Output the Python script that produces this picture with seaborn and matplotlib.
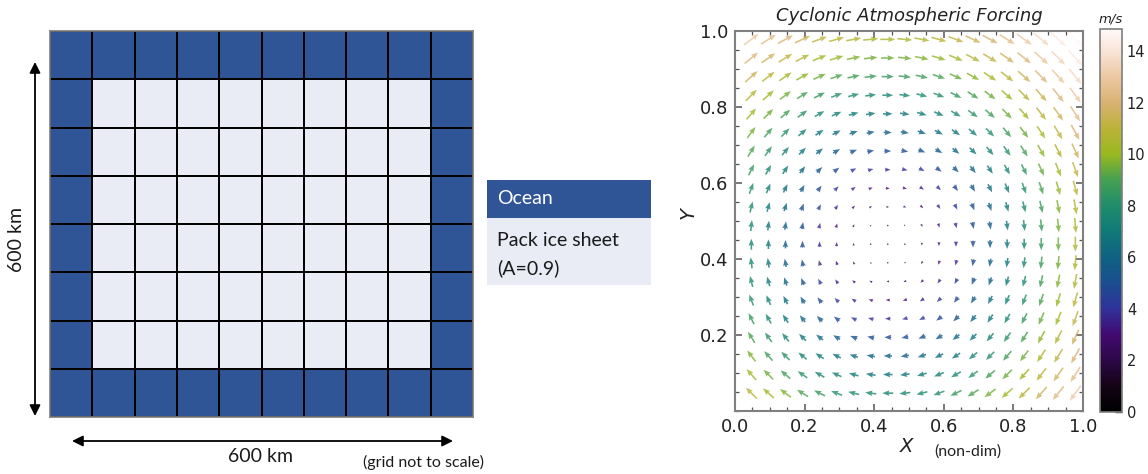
import numpy as np
import matplotlib
matplotlib.use("Agg")
import matplotlib.pyplot as plt
from matplotlib.colors import ListedColormap, Normalize, LinearSegmentedColormap
from matplotlib.patches import Rectangle, FancyArrowPatch
from matplotlib.ticker import MultipleLocator
import seaborn as sns

# ---- model domain layout: 1 = open ocean, 0 = pack ice ----
domain_cells = [
    [1, 1, 1, 1, 1, 1, 1, 1, 1, 1],
    [1, 0, 0, 0, 0, 0, 0, 0, 0, 1],
    [1, 0, 0, 0, 0, 0, 0, 0, 0, 1],
    [1, 0, 0, 0, 0, 0, 0, 0, 0, 1],
    [1, 0, 0, 0, 0, 0, 0, 0, 0, 1],
    [1, 0, 0, 0, 0, 0, 0, 0, 0, 1],
    [1, 0, 0, 0, 0, 0, 0, 0, 0, 1],
    [1, 1, 1, 1, 1, 1, 1, 1, 1, 1],
]
legend_labels = ["Ocean", "Pack ice sheet", "(A=0.9)"]
domain_size_label = "600 km"

# ---- wind forcing sampled on a 20 x 20 set of points (non-dim coords) ----
grid_pos = [0.047, 0.096, 0.145, 0.194, 0.243, 0.292, 0.341, 0.390, 0.439, 0.488,
            0.537, 0.586, 0.635, 0.684, 0.733, 0.782, 0.831, 0.880, 0.929, 0.978]
# eastward wind per row (bottom to top), m/s
u_by_row = [-7.7, -6.7, -5.8, -4.8, -3.8, -2.9, -1.9, -1.0, 0.0, 0.9,
            1.9, 2.8, 3.8, 4.8, 5.7, 6.7, 7.6, 8.6, 9.5, 10.5]
# northward wind per column (left to right), m/s
v_by_col = [7.7, 6.7, 5.8, 4.8, 3.8, 2.9, 1.9, 1.0, 0.0, -0.9,
            -1.9, -2.8, -3.8, -4.8, -5.7, -6.7, -7.6, -8.6, -9.5, -10.5]
xy_ticks = [0.0, 0.2, 0.4, 0.6, 0.8, 1.0]
cbar_ticks = [0, 2, 4, 6, 8, 10, 12, 14]

ocean_color = "#2F5597"
ice_color = "#E9EBF5"
office_font = "Lato"

# wind-speed palette: black -> purple -> blue -> teal -> green -> olive -> tan -> white
speed_colors = ["#000000", "#140414", "#2c0848", "#420a72", "#30329a", "#1a4e90",
                "#0f6282", "#107a78", "#1f8c6c", "#44a052", "#98b820", "#bcb238",
                "#d8b272", "#ecc8a2", "#f8e4d8", "#fff8f8"]
speed_anchor = [0, 1, 2, 3, 4, 5, 6, 7, 8, 9, 10, 11, 12, 13, 14, 14.85]

sns.set_theme(style="ticks")
plt.rcParams["font.family"] = ["DejaVu Sans"]

W, H = 1148, 474
fig = plt.figure(figsize=(W / 100, H / 100), dpi=100)


def px_axes(left, top, right, bottom):
    return fig.add_axes([left / W, 1 - bottom / H, (right - left) / W, (bottom - top) / H])


# ---------------- left: domain grid ----------------
ax_grid = px_axes(50, 31, 473, 417)
sns.heatmap(np.array(domain_cells), ax=ax_grid,
            cmap=ListedColormap([ice_color, ocean_color]), vmin=0, vmax=1,
            cbar=False, linewidths=1.1, linecolor="black",
            xticklabels=False, yticklabels=False)
for sp in ax_grid.spines.values():
    sp.set_visible(True)
    sp.set_color("#7f7f7f")
    sp.set_linewidth(1.2)

arrow_kw = dict(arrowstyle="<|-|>", color="black", lw=1.3, mutation_scale=16,
                shrinkA=0, shrinkB=0)
fig.add_artist(FancyArrowPatch((35, H - 62), (35, H - 416), transform=None, **arrow_kw))
fig.add_artist(FancyArrowPatch((72, H - 441), (453, H - 441), transform=None, **arrow_kw))
fig.text(17 / W, 1 - 240 / H, domain_size_label, rotation=90, ha="center", va="center",
         fontsize=14, family=office_font, color="#1a1a1a")
fig.text(260 / W, 1 - 457 / H, domain_size_label, ha="center", va="center",
         fontsize=14, family=office_font, color="#1a1a1a")
fig.text(423 / W, 1 - 462 / H, "(grid not to scale)", ha="center", va="center",
         fontsize=11.5, family=office_font, color="#1a1a1a")

# ---------------- legend boxes ----------------
ax_leg = px_axes(487, 180, 651, 285)
ax_leg.set_xlim(0, 164)
ax_leg.set_ylim(105, 0)
ax_leg.axis("off")
ax_leg.add_patch(Rectangle((0, 0), 164, 38, color=ocean_color, lw=0))
ax_leg.add_patch(Rectangle((0, 38), 164, 67, color=ice_color, lw=0))
ax_leg.text(10, 19, legend_labels[0], color="white", fontsize=14, family=office_font,
            ha="left", va="center")
ax_leg.text(10, 60, legend_labels[1], color="#1a1a1a", fontsize=14, family=office_font,
            ha="left", va="center")
ax_leg.text(10, 88, legend_labels[2], color="#1a1a1a", fontsize=14, family=office_font,
            ha="left", va="center")

# ---------------- right: wind vectors ----------------
ax_q = px_axes(735, 31, 1083, 411)
X, Y = np.meshgrid(grid_pos, grid_pos)
U = np.tile(np.array(u_by_row)[:, None], (1, len(grid_pos)))
V = np.tile(np.array(v_by_col)[None, :], (len(grid_pos), 1))
speed = np.hypot(U, V)
vmax = speed_anchor[-1]
norm = Normalize(0, vmax)
cmap = LinearSegmentedColormap.from_list(
    "wind_speed", list(zip(np.array(speed_anchor) / vmax, speed_colors)))
ax_q.quiver(X, Y, U, V, speed, cmap=cmap, norm=norm, pivot="mid",
            scale=70, scale_units="inches", units="dots", width=1.6,
            headwidth=3.5, headlength=4.5, headaxislength=4, alpha=0.8)
ax_q.set_xlim(0, 1)
ax_q.set_ylim(0, 1)
ax_q.set_xticks(xy_ticks)
ax_q.set_yticks(xy_ticks[1:])
ax_q.xaxis.set_minor_locator(MultipleLocator(0.05))
ax_q.yaxis.set_minor_locator(MultipleLocator(0.05))
ax_q.tick_params(which="both", direction="in", top=True, right=True,
                 color="#555555", labelsize=13, labelcolor="#222222")
ax_q.tick_params(which="major", length=5, width=1.1, pad=5)
ax_q.tick_params(which="minor", length=3, width=0.9)
for sp in ax_q.spines.values():
    sp.set_color("#808080")
    sp.set_linewidth(1.5)
ax_q.set_title("Cyclonic Atmospheric Forcing", fontsize=13, style="italic",
               color="#222222", pad=7)
fig.text(907 / W, 1 - 447 / H, "X", ha="center", va="center", fontsize=14,
         style="italic", color="#222222")
fig.text(968 / W, 1 - 452 / H, "(non-dim)", ha="center", va="center", fontsize=11.5,
         family=office_font, color="#222222")
fig.text(688 / W, 1 - 213 / H, "Y", ha="center", va="center", fontsize=14,
         style="italic", rotation=90, color="#222222")

# ---------------- colorbar ----------------
cax = px_axes(1100, 29, 1122, 412)
sm = matplotlib.cm.ScalarMappable(norm=norm, cmap=cmap)
cb = fig.colorbar(sm, cax=cax)
cb.set_ticks(cbar_ticks)
cb.ax.yaxis.set_minor_locator(MultipleLocator(0.5))
cb.ax.tick_params(which="both", direction="in", color="#333333", labelsize=10.5,
                  labelcolor="#222222")
cb.ax.tick_params(which="major", length=5, width=1)
cb.ax.tick_params(which="minor", length=3, width=0.8)
cb.outline.set_edgecolor("#808080")
cb.outline.set_linewidth(1.2)
cb.ax.set_title("m/s", fontsize=9.5, style="italic", color="#222222", pad=5)

fig.savefig("out.png", dpi=100)
